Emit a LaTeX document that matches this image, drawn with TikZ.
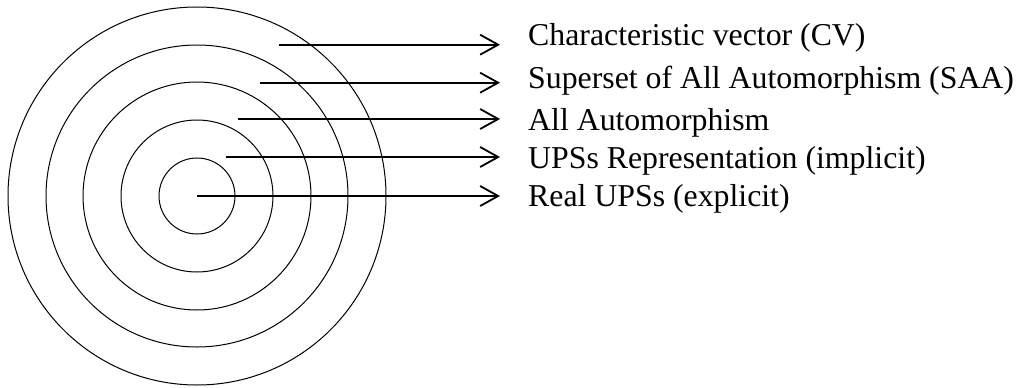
\documentclass[tikz,border=0pt]{standalone}
\usepackage{fontspec}
\setmainfont{Liberation Serif}
\usetikzlibrary{arrows.meta}
\begin{document}
\begin{tikzpicture}[x=1pt,y=-1pt,
  ring/.style={draw, circle, line width=1pt, inner sep=0pt, minimum size=#1},
  pointer/.style={line width=2pt, -{Straight Barb[length=18pt,width=20pt,line width=1.8pt]}},
  lbl/.style={anchor=base west, inner sep=0pt, font=\fontsize{31.8}{38}\selectfont}]
  \useasboundingbox (0,0) rectangle (1026,388);
  % concentric layers
  \node[ring=378pt] (r5) at (197,196) {};
  \node[ring=302pt] (r4) at (197,196) {};
  \node[ring=228pt] (r3) at (197,196) {};
  \node[ring=152pt] (r2) at (197,196) {};
  \node[ring=76pt]  (r1) at (197,196) {};
  % arrow start points
  \coordinate (s5) at (279,44.7);
  \coordinate (s4) at (260,82.7);
  \coordinate (s3) at (238,119);
  \coordinate (s2) at (226,157);
  \coordinate (s1) at (197,196);
  % labels
  \node[lbl] (l5) at (528,45.5)  {Characteristic vector (CV)};
  \node[lbl] (l4) at (528,88)  {Superset of All Automorphism (SAA)};
  \node[lbl] (l3) at (528,130) {All Automorphism};
  \node[lbl] (l2) at (528,168) {UPSs Representation (implicit)};
  \node[lbl] (l1) at (528,206) {Real UPSs (explicit)};
  % pointers
  \foreach \i in {1,...,5}{
    \draw[pointer] (s\i) -- ([xshift=-28pt]s\i -| l\i.west);
  }
\end{tikzpicture}
\end{document}
